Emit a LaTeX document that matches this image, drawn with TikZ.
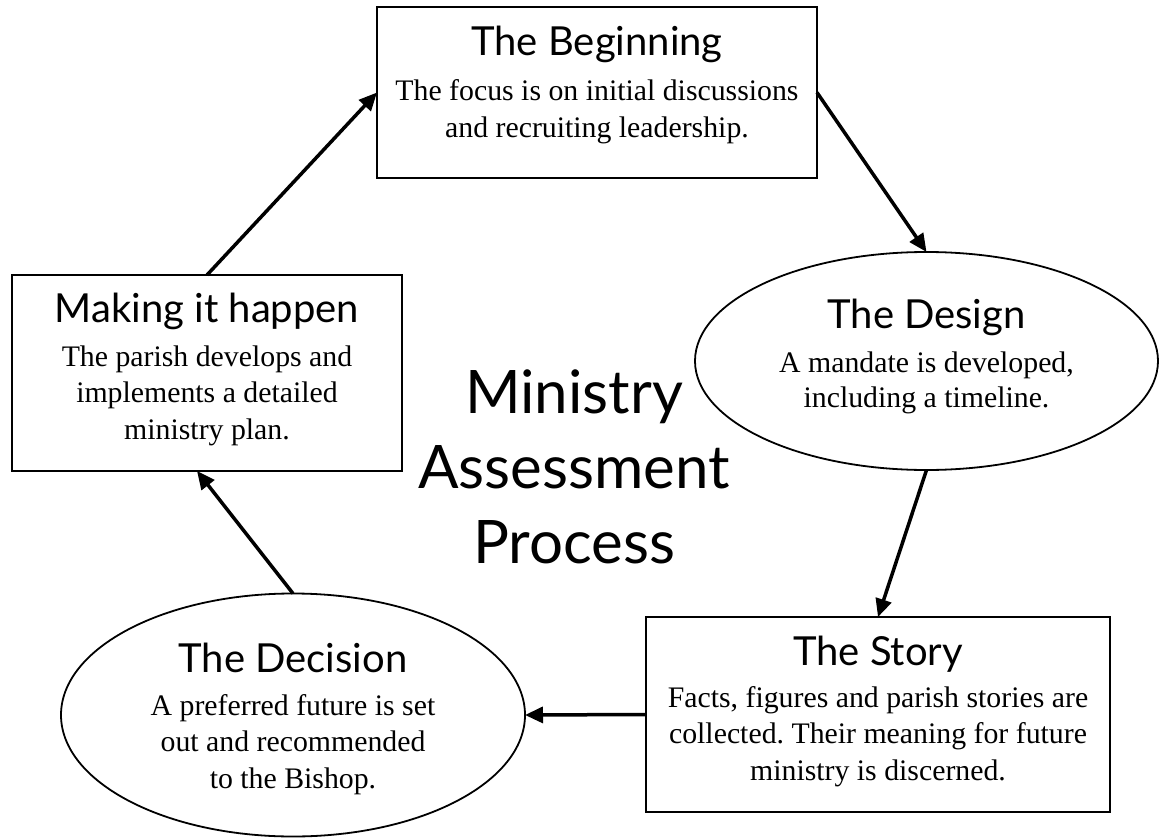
\documentclass[tikz,border=0pt]{standalone}
\usepackage{fontspec}
\setmainfont{Liberation Serif}
\newfontfamily\headfont{Lato}
\usetikzlibrary{shapes.geometric,arrows.meta}
\frenchspacing
\begin{document}
\begin{tikzpicture}[x=1bp,y=-1bp,
  shapebox/.style={draw=black,line width=1.8bp,inner sep=0pt,outer sep=0pt,rectangle},
  shapeoval/.style={draw=black,line width=1.8bp,inner sep=0pt,outer sep=0pt,ellipse},
  headtxt/.style={anchor=base,inner sep=0pt,font=\headfont\fontsize{40bp}{48bp}\selectfont},
  bodytxt/.style={anchor=base,inner sep=0pt,font=\frenchspacing\fontsize{29.8bp}{36.5bp}\selectfont},
  titletxt/.style={anchor=base,inner sep=0pt,font=\headfont\fontsize{60bp}{75bp}\selectfont},
  flow/.style={line width=3.5bp,-{Triangle[length=18bp,width=16bp]}}
]
\fill[white] (0,0) rectangle (1163,838);
\useasboundingbox (0,0) rectangle (1163,838);

% shapes
\node[shapebox,minimum width=440bp,minimum height=171bp] (beg) at (597,92.5) {};
\node[shapeoval,minimum width=463bp,minimum height=218bp] (des) at (926.5,361) {};
\node[shapebox,minimum width=464bp,minimum height=195bp] (sto) at (878,714.5) {};
\node[shapeoval,minimum width=464bp,minimum height=243bp] (dec) at (293,715) {};
\node[shapebox,minimum width=390bp,minimum height=196bp] (mak) at (207,373) {};

% texts
\node[headtxt] (begh) at (597,55) {The Beginning};
\node[bodytxt,font=\frenchspacing\fontsize{29.8bp}{37bp}\selectfont] (begb) at (597,100)
  {\begin{tabular}[t]{@{}c@{}}The focus is on initial discussions\\and recruiting leadership.\end{tabular}};

\node[headtxt] (desh) at (926.5,328) {The Design};
\node[bodytxt,font=\frenchspacing\fontsize{29.8bp}{35bp}\selectfont] (desb) at (926.5,372)
  {\begin{tabular}[t]{@{}c@{}}A mandate is developed,\\including a timeline.\end{tabular}};

\node[headtxt] (stoh) at (878,665) {The Story};
\node[bodytxt] (stob) at (878,707)
  {\begin{tabular}[t]{@{}c@{}}Facts, figures and parish stories are\\collected. Their meaning for future\\ministry is discerned.\end{tabular}};

\node[headtxt] (dech) at (293,672) {The Decision};
\node[bodytxt] (decb) at (293,715)
  {\begin{tabular}[t]{@{}c@{}}A preferred future is set\\out and recommended\\to the Bishop.\end{tabular}};

\node[headtxt] (makh) at (207,322) {Making it happen};
\node[bodytxt] (makb) at (207,366)
  {\begin{tabular}[t]{@{}c@{}}The parish develops and\\implements a detailed\\ministry plan.\end{tabular}};

\node[titletxt] (t1) at (574,413) {Ministry};
\node[titletxt] (t2) at (574,488) {Assessment};
\node[titletxt] (t3) at (574,563) {Process};

% connectors
\draw[flow] (beg.east) -- (des.north);
\draw[flow] (des.south) -- (sto.north);
\draw[flow] (sto.west) -- (dec.east);
\draw[flow] (dec.north) -- ([xshift=-10bp]mak.south);
\draw[flow] (mak.north) -- (beg.west);
\end{tikzpicture}
\end{document}
